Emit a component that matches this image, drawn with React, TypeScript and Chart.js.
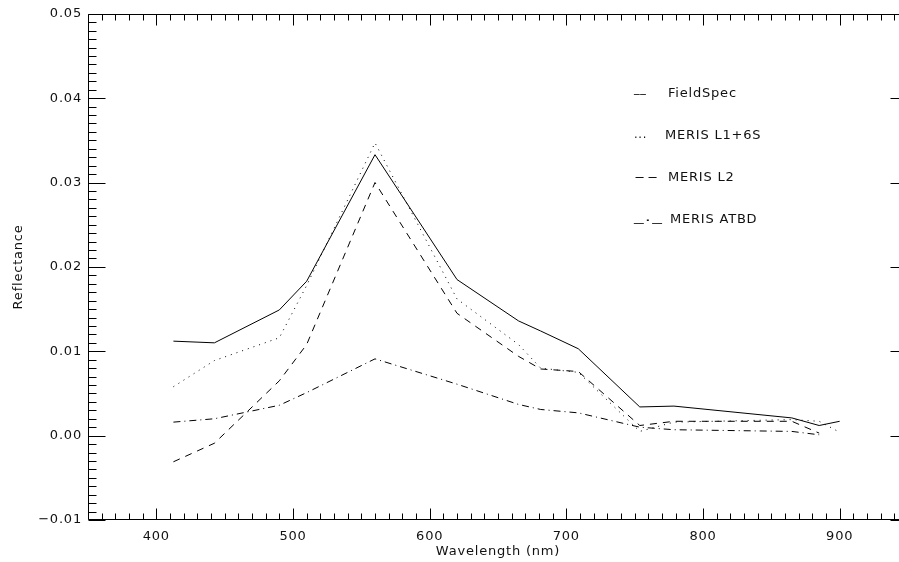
import { useEffect, useRef } from "react";
import { Chart, registerables } from "chart.js";
Chart.register(...registerables);

const wavelengths = [412.5, 442.5, 490, 510, 560, 620, 665, 681.25, 708.75, 753.75, 778.75, 865, 885, 900];
const fieldSpec = [0.0112, 0.011, 0.0149, 0.0183, 0.0333, 0.0185, 0.0136, 0.0124, 0.0103, 0.0034, 0.0035, 0.0021, 0.0012, 0.0017];
const merisL16S = [0.0058, 0.0089, 0.0116, 0.0178, 0.0347, 0.0162, 0.0108, 0.008, 0.0075, 0.0005, 0.0016, 0.0019, 0.0017, 0.0004];
const merisL2 = [-0.0031, -0.0009, 0.0065, 0.0108, 0.03, 0.0145, 0.0094, 0.0079, 0.0076, 0.0012, 0.0017, 0.0017, 0.0003, null];
const merisATBD = [0.0016, 0.002, 0.0036, 0.0051, 0.0091, 0.0061, 0.0037, 0.0031, 0.0027, 0.001, 0.0007, 0.0005, 0.0001, null];

const seriesNames = ["FieldSpec", "MERIS L1+6S", "MERIS L2", "MERIS ATBD"];
const legendMarks = ["__", "...", "--", "_._"];
const xTickLabels = [400, 500, 600, 700, 800, 900];
const yTickLabels = [-0.01, 0, 0.01, 0.02, 0.03, 0.04, 0.05];

const FONT = "DejaVu Sans";
const FSIZE = 13;
const SPACING = "0.8px";
const INK = "#111";

const boxPlugin = {
  id: "idlBox",
  beforeDraw(chart: any) {
    (chart.ctx as any).letterSpacing = SPACING;
  },
  afterDraw(chart: any) {
    const ctx = chart.ctx;
    const { left, right, top, bottom } = chart.chartArea;
    const xs = chart.scales.x;
    const ys = chart.scales.y;
    ctx.save();
    ctx.strokeStyle = "#000";
    ctx.lineWidth = 1;
    ctx.beginPath();
    const L = Math.round(left) + 0.5, R = Math.round(right) - 0.5;
    const T = Math.round(top) + 0.5, B = Math.round(bottom) - 0.5;
    ctx.rect(L, T, R - L, B - T);
    for (let i = 35; i <= 95; i++) {
      const px = Math.round(xs.getPixelForValue(i * 10)) + 0.5;
      const len = i % 10 === 0 ? 11 : 6;
      ctx.moveTo(px, B); ctx.lineTo(px, B - len);
      ctx.moveTo(px, T); ctx.lineTo(px, T + len);
    }
    for (let i = -10; i <= 50; i++) {
      const py = Math.round(ys.getPixelForValue(i / 1000)) + 0.5;
      const len = i % 10 === 0 ? 17 : 8;
      ctx.moveTo(L, py); ctx.lineTo(L + len, py);
      ctx.moveTo(R, py); ctx.lineTo(R - len, py);
    }
    ctx.stroke();

    // IDL-style text legend
    ctx.fillStyle = INK;
    ctx.font = `${FSIZE}px "${FONT}"`;
    (ctx as any).letterSpacing = SPACING;
    ctx.textBaseline = "alphabetic";
    ctx.textAlign = "left";
    const nameBase = [97, 139, 181, 223];
    const markBase = [91.5, 138, 181, 220.5];
    const markW = [12.5, 13, 26, 29];
    const nameX = [668, 665, 668, 670];
    for (let k = 0; k < seriesNames.length; k++) {
      const w = ctx.measureText(legendMarks[k]).width;
      ctx.save();
      ctx.translate(634, markBase[k]);
      ctx.scale(markW[k] / w, 1);
      ctx.fillText(legendMarks[k], 0, 0);
      ctx.restore();
      ctx.fillText(seriesNames[k], nameX[k], nameBase[k]);
    }
    ctx.restore();
  },
};

export default function App() {
  const ref = useRef<HTMLCanvasElement>(null);
  useEffect(() => {
    const pts = (ys: (number | null)[]) => wavelengths.map((x, i) => ({ x, y: ys[i] }));
    const base = { borderColor: "#000", borderWidth: 1, pointRadius: 0, tension: 0, fill: false, spanGaps: false };
    const font = { family: FONT, size: FSIZE };
    const chart = new Chart(ref.current as HTMLCanvasElement, {
      type: "line",
      data: {
        datasets: [
          { ...base, label: seriesNames[0], data: pts(fieldSpec) },
          { ...base, label: seriesNames[1], data: pts(merisL16S), borderDash: [1, 5] },
          { ...base, label: seriesNames[2], data: pts(merisL2), borderDash: [7, 6] },
          { ...base, label: seriesNames[3], data: pts(merisATBD), borderDash: [7, 4, 1, 4] },
        ] as any,
      },
      options: {
        animation: false,
        responsive: false,
        devicePixelRatio: 1,
        layout: { padding: { top: 10, right: 12, left: 0, bottom: 0 } },
        plugins: { legend: { display: false }, tooltip: { enabled: false } },
        scales: {
          x: {
            type: "linear",
            min: 350,
            max: 950,
            grid: { display: false, drawTicks: false },
            border: { display: false },
            afterBuildTicks: (s: any) => { s.ticks = xTickLabels.map((v) => ({ value: v })); },
            afterFit: (s: any) => { s.height = 42; },
            ticks: { color: INK, font, padding: 9, maxRotation: 0, callback: (v: any) => String(v) },
            title: { display: true, text: "Wavelength (nm)", color: INK, font, padding: { top: 0, bottom: 3 } },
          },
          y: {
            type: "linear",
            min: -0.01,
            max: 0.05,
            grid: { display: false, drawTicks: false },
            border: { display: false },
            afterBuildTicks: (s: any) => { s.ticks = yTickLabels.map((v) => ({ value: v })); },
            afterFit: (s: any) => { s.width = 88; },
            ticks: {
              color: INK,
              font,
              padding: 6,
              callback: (v: any) => (v < -1e-9 ? "\u2212" : "") + Math.abs(Number(v)).toFixed(2),
            },
            title: { display: true, text: "Reflectance", color: INK, font, padding: { top: 11, bottom: 0 } },
          },
        },
      } as any,
      plugins: [boxPlugin],
    });
    return () => chart.destroy();
  }, []);
  return (
    <div style={{ position: "fixed", left: 0, top: 0, width: 899, height: 562, overflow: "hidden", background: "#fff" }}>
      <canvas ref={ref} width={920} height={562} style={{ display: "block", width: 920, height: 562 }} />
    </div>
  );
}
